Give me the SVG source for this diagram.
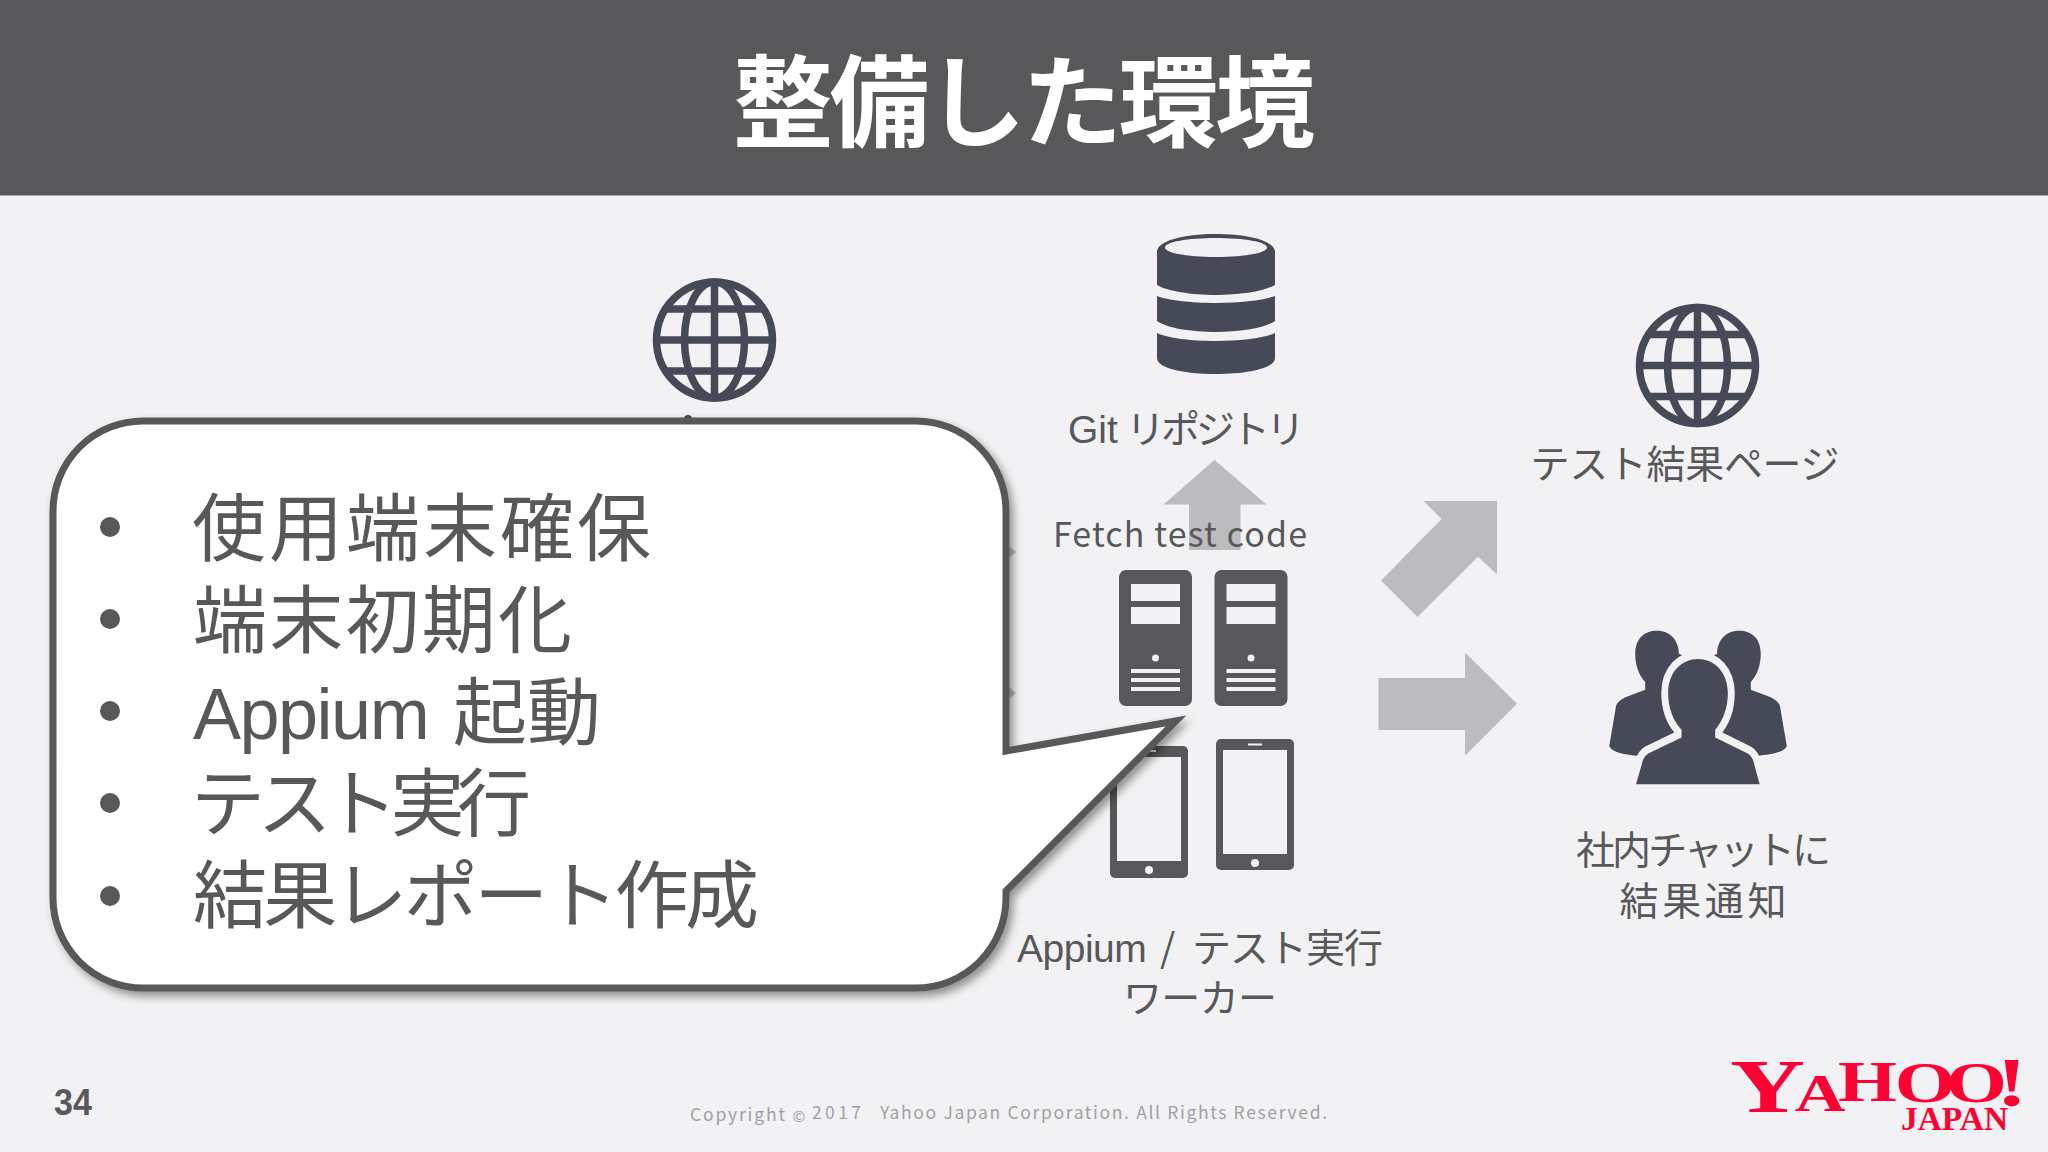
<svg xmlns="http://www.w3.org/2000/svg" width="2048" height="1152" viewBox="0 0 2048 1152">
<style>
text{font-family:"Noto Sans CJK JP","Noto Sans",sans-serif;fill:#58585a}
.lbl{font-size:39px}
.blt{font-size:74px}
.lat{font-family:"Liberation Sans",sans-serif}
.arrow{fill:#bcbcbe}
.dark{fill:#464958}
.srv{fill:#58585a}
.bg{fill:#f2f2f4}
.logo{font-family:"Liberation Serif",serif;font-weight:700;fill:#ff0033}
.copy{font-size:17.5px;fill:#a0a0a4}
</style>
<defs>
<filter id="sh" x="-5%" y="-5%" width="112%" height="112%"><feDropShadow dx="4" dy="5" stdDeviation="4" flood-color="#000" flood-opacity="0.4"/></filter>
<g id="globe" fill="none" stroke="#464958" stroke-width="7.5">
<circle r="58"/><ellipse rx="30" ry="58"/>
<path d="M0-58V58M-58 0H58M-49-31H49M-49 31H49"/>
</g>
<g id="server">
<rect width="73" height="136" rx="7" class="srv"/>
<g class="bg"><rect x="12" y="14" width="49" height="17"/><rect x="12" y="37" width="49" height="17"/><circle cx="36.5" cy="88" r="3.5"/><rect x="12" y="99" width="49" height="4"/><rect x="12" y="108" width="49" height="4"/><rect x="12" y="117" width="49" height="4"/></g>
</g>
</defs>
<rect width="2048" height="1152" class="bg"/>
<g id="header"><rect width="2048" height="195.500" fill="#58585a"/>
<text x="1024" y="139" text-anchor="middle" font-size="100" font-weight="700" style="fill:#fff" textLength="582">整備した環境</text></g>

<g id="connectors">
<polygon class="arrow" points="1214.500,460 1266.500,504.500 1240.500,504.500 1240.500,550 1189,550 1189,504.500 1163.500,504.500"/>
<polygon class="arrow" points="1423.600,501 1497,501 1497,574.500 1478,556.700 1417.500,617 1381,580.500 1441.600,519"/>
<polygon class="arrow" points="1378.500,678 1465,678 1465,652.500 1517,703.700 1465,755.700 1465,730 1378.500,730"/>
<polygon class="arrow" points="990,530 1016,552 990,574"/>
<polygon class="arrow" points="990,671 1016,693 990,715"/>
</g>

<g id="web-left"><use href="#globe" x="714.500" y="340"/></g>
<g id="git-repo">
<path class="dark" fill-rule="evenodd" d="M1157 252C1157 241 1183 234 1216 234C1249 234 1275 241 1275 252V285C1265 291 1241 295 1216 295C1191 295 1167 291 1157 285ZM1165 247.500C1165 253 1188 257 1216 257C1244 257 1267 253 1267 247.500C1267 242 1244 238 1216 238C1188 238 1165 242 1165 247.500Z"/>
<path class="dark" d="M1157 296C1167 300 1191 303 1216 303C1241 303 1265 300 1275 296V321C1265 328 1241 332 1216 332C1191 332 1167 328 1157 321Z"/>
<path class="dark" d="M1157 333C1167 338 1191 341 1216 341C1241 341 1265 338 1275 333V358C1275 368 1249 374 1216 374C1183 374 1157 368 1157 358Z"/>
<text class="lbl" y="443"><tspan class="lat" x="1068">Git </tspan><tspan x="1126" letter-spacing="-4">リポジトリ</tspan></text>
</g>
<g id="fetch-label"><text x="1053" y="547" font-size="34" textLength="254">Fetch test code</text></g>
<g id="workers">
<use href="#server" x="1119" y="570"/><use href="#server" x="1214.500" y="570"/>
<rect class="srv" x="1110" y="746" width="78" height="132" rx="5"/><rect class="bg" x="1117" y="757" width="64" height="104"/><circle class="bg" cx="1149" cy="870" r="4"/><rect class="bg" x="1142" y="750" width="14" height="2"/>
<rect class="srv" x="1216" y="739" width="78" height="131" rx="5"/><rect class="bg" x="1223" y="750" width="64" height="104"/><circle class="bg" cx="1255" cy="863" r="4"/><rect class="bg" x="1248" y="743.500" width="14" height="2"/>
<text class="lbl" y="962"><tspan class="lat" x="1017" letter-spacing="-0.5">Appium </tspan><tspan x="1160">/ </tspan><tspan x="1192" letter-spacing="-1">テスト実行</tspan></text>
<text class="lbl" x="1123" y="1012" textLength="154">ワーカー</text>
</g>
<g id="test-page"><use href="#globe" x="1697.500" y="365.500"/>
<text class="lbl" x="1530.500" y="478" textLength="309">テスト結果ページ</text></g>
<g id="chat">
<g transform="matrix(.3827 0 0 .4337 1300 270)">
<g class="dark">
<path d="M876 885C876 850 900 832 933 832C968 832 990 855 990 885L1040 905V1120H885C850 1118 815 1112 808 1098L825 1010C825 1000 835 992 850 985L902 968V950C885 935 876 910 876 885Z"/>
<path d="M876 885C876 850 900 832 933 832C968 832 990 855 990 885L1040 905V1120H885C850 1118 815 1112 808 1098L825 1010C825 1000 835 992 850 985L902 968V950C885 935 876 910 876 885Z" transform="matrix(-1 0 0 1 2080 0)"/>
<path d="M962 975C962 925 1000 897 1040 897C1085 897 1118 930 1118 975C1118 1010 1105 1040 1085 1060V1078L1170 1115C1180 1120 1185 1130 1187 1140L1201 1186H878L893 1140C895 1130 900 1120 910 1115L997 1078V1060C975 1040 962 1010 962 975Z" stroke="#f2f2f4" stroke-width="36" paint-order="stroke"/>
</g></g>
<text class="lbl" x="1576" y="864" textLength="255">社内チャットに</text>
<text class="lbl" x="1619.500" y="915" textLength="167">結果通知</text>
</g>

<circle cx="688" cy="419" r="4" fill="#464958"/>
<g id="callout">
<path filter="url(#sh)" fill="#fff" stroke="#58585a" stroke-width="7" stroke-miterlimit="12" d="M143 421H916A90 90 0 0 1 1006 511V751L1176 721L1006 891V898A90 90 0 0 1 916 988H143A90 90 0 0 1 53 898V511A90 90 0 0 1 143 421Z"/>
<g fill="#58585a"><circle cx="110" cy="527" r="10"/><circle cx="110" cy="619" r="10"/><circle cx="110" cy="711" r="10"/><circle cx="110" cy="803" r="10"/><circle cx="110" cy="896" r="10"/></g>
<text class="blt" x="192" y="555" textLength="459">使用端末確保</text>
<text class="blt" x="193" y="647" textLength="379">端末初期化</text>
<text class="blt" y="739"><tspan class="lat" x="193" font-size="72" letter-spacing="-1.5">Appium </tspan><tspan x="453">起動</tspan></text>
<text class="blt" x="191" y="830" textLength="340">テスト実行</text>
<text class="blt" x="193" y="922" textLength="566">結果レポート作成</text>
</g>

<g id="footer">
<text x="54" y="1115" font-size="37" font-weight="700" style="font-family:'Liberation Sans',sans-serif" textLength="38" lengthAdjust="spacingAndGlyphs">34</text>
<text class="copy" x="690" y="1121" textLength="95">Copyright</text>
<text class="copy" x="799" y="1122" text-anchor="middle" style="font-size:15px">©</text>
<text class="copy" x="812" y="1119" textLength="49">2017</text>
<text class="copy" x="880" y="1119" textLength="447">Yahoo Japan Corporation. All Rights Reserved.</text>
</g>

<g id="logo">
<g transform="translate(1730 0) scale(1.35 1)">
<text class="logo"><tspan x="0" y="1112" font-size="77">Y</tspan><tspan x="48" y="1111" font-size="52">A</tspan><tspan x="80" y="1101.500" font-size="56">H</tspan><tspan x="122" y="1102" font-size="58">O</tspan><tspan x="160" y="1102" font-size="58">O</tspan><tspan x="197" y="1106" font-size="70">!</tspan></text>
</g>
<text class="logo" x="1901" y="1130" font-size="33" textLength="107" lengthAdjust="spacingAndGlyphs">JAPAN</text>
</g>
</svg>
